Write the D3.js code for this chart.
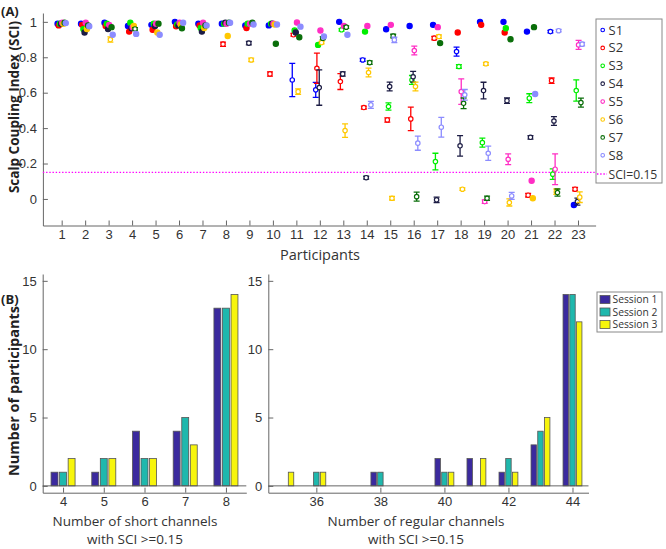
<!DOCTYPE html>
<html>
<head>
<meta charset="utf-8">
<script src="https://cdn.jsdelivr.net/npm/d3@7"></script>
<style>
  body { margin: 0; background: #fff; }
  svg { font-family: "Open Sans", sans-serif; }
  .axis path, .axis line { stroke: #666; }
  .axis text { fill: #333; font-size: 13px; }
</style>
</head>
<body>
<div id="chart"></div>
<script>
// Panel A: SCI per participant, one series per short channel (mean and error)
const participants = [1, 2, 3, 4, 5, 6, 7, 8, 9, 10, 11, 12, 13, 14, 15, 16, 17, 18, 19, 20, 21, 22, 23];

const s1 = [0.99, 0.99, 0.995, 0.977, 0.983, 1.0, 0.99, 0.99, 0.98, 0.98, 0.672, 0.616, 1.0, 0.785, 0.958, 0.977, 0.983, 0.832, 1.0, 1.0, 0.945, 0.945, -0.034];
const s1Err = [0, 0, 0, 0, 0, 0, 0, 0, 0, 0, 0.094, 0.042, 0, 0.008, 0, 0, 0, 0.025, 0, 0, 0, 0.007, 0];
const s2 = [0.98, 0.983, 0.977, 0.945, 0.955, 0.975, 0.98, 0.874, 0.965, 0.706, 0.927, 0.738, 0.663, 0.516, 0.446, 0.452, 0.908, 0.94, 0.983, 0.94, 0.021, 0.668, 0.055];
const s2Err = [0, 0, 0, 0, 0, 0, 0, 0.012, 0, 0.012, 0.008, 0.085, 0.045, 0.008, 0.012, 0.066, 0.01, 0, 0, 0, 0.01, 0.015, 0.01];
const s3 = [0.99, 0.959, 0.99, 0.995, 0.99, 0.985, 0.965, 0.99, 0.99, 0.99, 0.951, 0.87, 0.955, 0.945, 0.522, 0.672, 0.211, 0.748, 0.318, 0.964, 0.569, 0.14, 0.612];
const s3Err = [0, 0, 0, 0, 0, 0, 0, 0, 0, 0, 0, 0, 0.007, 0, 0.02, 0.025, 0.047, 0.01, 0.025, 0, 0.025, 0.03, 0.06];
const s4 = [0.99, 0.94, 0.96, 0.964, 0.977, 0.98, 0.945, 0.995, 0.88, 0.99, 0.94, 0.629, 0.706, 0.12, 0.635, 0.69, -0.005, 0.3, 0.612, 0.555, 0.348, 0.44, -0.015];
const s4Err = [0, 0, 0, 0, 0, 0, 0, 0, 0.01, 0, 0, 0.1, 0.012, 0.008, 0.025, 0.03, 0.015, 0.058, 0.047, 0.015, 0.01, 0.025, 0.02];
const s5 = [0.995, 0.995, 0.983, 0.97, 0.99, 0.995, 0.995, 0.99, 0.99, 0.99, 0.996, 0.951, 0.977, 0.977, 0.983, 0.838, 0.97, 0.606, -0.015, 0.224, 0.103, 0.168, 0.87];
const s5Err = [0, 0, 0, 0, 0, 0, 0, 0, 0, 0, 0, 0, 0, 0, 0, 0.025, 0, 0.072, 0.01, 0.03, 0, 0.087, 0.025];
const s6 = [0.99, 0.96, 0.9, 0.977, 0.94, 0.985, 0.965, 0.92, 0.785, 0.985, 0.606, 0.883, 0.386, 0.714, 0.004, 0.635, 0.917, 0.055, 0.763, -0.02, 0.004, 0.041, 0.01];
const s6Err = [0, 0, 0.015, 0, 0, 0, 0, 0, 0.01, 0, 0.015, 0.007, 0.038, 0.025, 0.01, 0.025, 0.01, 0.007, 0.008, 0.02, 0, 0.015, 0.03];
const s7 = [0.995, 0.98, 0.97, 0.96, 0.99, 0.964, 0.98, 0.995, 0.995, 0.876, 0.913, 0.908, 0.97, 0.77, 0.92, 0.013, 0.88, 0.54, 0.004, 0.902, 0.97, 0.036, 0.544];
const s7Err = [0, 0, 0, 0.007, 0, 0, 0, 0, 0, 0, 0, 0.008, 0.007, 0.01, 0.01, 0.025, 0, 0.03, 0.012, 0, 0, 0.02, 0.025];
const s8 = [0.993, 0.975, 0.927, 0.932, 0.927, 0.995, 0.98, 0.995, 0.985, 0.985, 0.973, 0.917, 0.927, 0.531, 0.898, 0.315, 0.405, 0.588, 0.258, 0.017, 0.593, 0.95, 0.874];
const s8Err = [0, 0, 0, 0, 0, 0, 0, 0, 0, 0, 0, 0, 0, 0.02, 0.015, 0.04, 0.056, 0.03, 0.04, 0.02, 0, 0.007, 0.01];

const channelNames = ['S1', 'S2', 'S3', 'S4', 'S5', 'S6', 'S7', 'S8'];
const sciThreshold = 0.15;
const sciTicks = [0, 0.2, 0.4, 0.6, 0.8, 1];

// Panel B: number of participants per count of good channels, 3 sessions
const shortCounts = [4, 5, 6, 7, 8];
const shortSession1 = [1, 1, 4, 4, 13];
const shortSession2 = [1, 2, 2, 5, 13];
const shortSession3 = [2, 2, 2, 3, 14];

const regularCounts = [35, 36, 37, 38, 39, 40, 41, 42, 43, 44];
const regularSession1 = [0, 0, 0, 1, 0, 2, 2, 1, 3, 14];
const regularSession2 = [0, 1, 0, 1, 0, 1, 0, 2, 4, 14];
const regularSession3 = [1, 1, 0, 0, 0, 1, 2, 1, 5, 12];

const sessionNames = ['Session 1', 'Session 2', 'Session 3'];
const countTicks = [0, 5, 10, 15];

const channelColors = ['#0000ff', '#ff0000', '#00ee00', '#1c1c44', '#ff2ec4', '#ffc800', '#0a6e0a', '#8c8cff'];
const sessionColors = ['#3b2a9e', '#1fb8ad', '#f7f50c'];

const width = 666;
const height = 549;

const svg = d3.select('#chart')
    .append('svg')
    .attr('width', width)
    .attr('height', height);

// ---------- Panel A ----------
const channels = [
    { name: channelNames[0], mean: s1, err: s1Err },
    { name: channelNames[1], mean: s2, err: s2Err },
    { name: channelNames[2], mean: s3, err: s3Err },
    { name: channelNames[3], mean: s4, err: s4Err },
    { name: channelNames[4], mean: s5, err: s5Err },
    { name: channelNames[5], mean: s6, err: s6Err },
    { name: channelNames[6], mean: s7, err: s7Err },
    { name: channelNames[7], mean: s8, err: s8Err }
];

const xA = d3.scaleLinear().domain([0.2, 23.75]).range([42.9, 595.6]);
const yA = d3.scaleLinear().domain([-0.15, 1.05]).range([225.5, 13]);

svg.append('g')
    .attr('class', 'axis')
    .attr('transform', 'translate(0,225.5)')
    .call(d3.axisBottom(xA).tickValues(participants).tickFormat(d3.format('d'))
        .tickSizeInner(-5).tickSizeOuter(0).tickPadding(4));

svg.append('g')
    .attr('class', 'axis')
    .attr('transform', 'translate(42.9,0)')
    .call(d3.axisLeft(yA).tickValues(sciTicks).tickFormat(d => d === 0 || d === 1 ? d : d.toFixed(1))
        .tickSizeInner(-5).tickSizeOuter(0).tickPadding(6));

// threshold line
svg.append('line')
    .attr('x1', xA.range()[0]).attr('x2', xA.range()[1])
    .attr('y1', yA(sciThreshold)).attr('y2', yA(sciThreshold))
    .attr('stroke', '#ff00ff')
    .attr('stroke-width', 1.3)
    .attr('stroke-dasharray', '1.4,1.8');

channels.forEach((ch, i) => {
    const offset = (i - 3.5) * 0.05;
    const color = channelColors[i];
    const g = svg.append('g');
    const pts = participants.map((p, j) => ({ p: p, m: ch.mean[j], e: ch.err[j] }));

    const bars = pts.filter(d => d.e > 0);
    g.selectAll('.eb').data(bars).enter().append('path')
        .attr('d', d => {
            const cx = xA(d.p + offset);
            const y1 = yA(d.m + d.e), y2 = yA(d.m - d.e);
            return `M${cx},${y1}V${y2}M${cx - 3},${y1}H${cx + 3}M${cx - 3},${y2}H${cx + 3}`;
        })
        .attr('stroke', color)
        .attr('stroke-width', 1.3)
        .attr('fill', 'none');

    g.selectAll('circle').data(pts).enter().append('circle')
        .attr('cx', d => xA(d.p + offset))
        .attr('cy', d => yA(d.m))
        .attr('r', d => d.e > 0 ? 2.2 : 2.6)
        .attr('fill', d => d.e > 0 ? '#fff' : color)
        .attr('stroke', color)
        .attr('stroke-width', 1.2);
});

svg.append('text')
    .attr('transform', 'translate(19,107) rotate(-90)')
    .attr('text-anchor', 'middle')
    .style('font-size', '13.5px')
    .style('font-weight', 'bold')
    .attr('fill', '#222')
    .text('Scalp Coupling Index (SCI)');

svg.append('text')
    .attr('x', 320).attr('y', 260)
    .attr('text-anchor', 'middle')
    .style('font-size', '14.5px')
    .attr('fill', '#333')
    .text('Participants');

svg.append('text')
    .attr('x', 1).attr('y', 16)
    .style('font-size', '13px')
    .style('font-weight', 'bold')
    .attr('fill', '#222')
    .text('(A)');

// legend A
const legA = svg.append('g');
legA.append('rect')
    .attr('x', 596).attr('y', 19).attr('width', 66).attr('height', 164)
    .attr('fill', '#fff').attr('stroke', '#888').attr('stroke-width', 1);
channelNames.forEach((name, i) => {
    const yy = 30 + i * 17.9;
    legA.append('circle')
        .attr('cx', 602.7).attr('cy', yy).attr('r', 1.8)
        .attr('fill', 'none').attr('stroke', channelColors[i]).attr('stroke-width', 1.1);
    legA.append('text')
        .attr('x', 608.5).attr('y', yy + 4.5)
        .style('font-size', '13px').attr('fill', '#333')
        .text(name);
});
legA.append('line')
    .attr('x1', 597).attr('x2', 607).attr('y1', 174).attr('y2', 174)
    .attr('stroke', '#ff00ff').attr('stroke-width', 1.3).attr('stroke-dasharray', '1.4,1.8');
legA.append('text')
    .attr('x', 608.5).attr('y', 178.5)
    .style('font-size', '12.2px').attr('fill', '#333')
    .text('SCI=' + sciThreshold);

// ---------- Panel B ----------
const yB = d3.scaleLinear().domain([-0.5, 15.5]).range([492.7, 274]);

function drawBars(cats, series, xScale, yAxisX, xLabelX, label1, label2) {
    svg.append('g')
        .attr('class', 'axis')
        .attr('transform', 'translate(0,492.7)')
        .call(d3.axisBottom(xScale).tickValues(cats.filter(c => xScale.ticksShown(c))).tickFormat(d3.format('d'))
            .tickSizeInner(-5).tickSizeOuter(0).tickPadding(4));

    svg.append('g')
        .attr('class', 'axis')
        .attr('transform', `translate(${yAxisX},0)`)
        .call(d3.axisLeft(yB).tickValues(countTicks)
            .tickSizeInner(-5).tickSizeOuter(0).tickPadding(6));

    const offsets = [-0.21, 0, 0.21];
    const bw = xScale(cats[0] + 0.085) - xScale(cats[0] - 0.085);
    series.forEach((vals, s) => {
        svg.append('g').selectAll('rect')
            .data(cats.map((c, i) => ({ c: c, v: vals[i] })).filter(d => d.v > 0))
            .enter().append('rect')
            .attr('x', d => xScale(d.c + offsets[s]) - bw / 2)
            .attr('width', bw)
            .attr('y', d => yB(d.v))
            .attr('height', d => yB(0) - yB(d.v))
            .attr('fill', sessionColors[s])
            .attr('stroke', '#555')
            .attr('stroke-width', 0.8);
    });

    // baseline at zero
    svg.append('line')
        .attr('x1', xScale.range()[0]).attr('x2', xScale.range()[1])
        .attr('y1', yB(0)).attr('y2', yB(0))
        .attr('stroke', '#555').attr('stroke-width', 0.9);

    svg.append('text')
        .attr('x', xLabelX).attr('y', 525.5)
        .attr('text-anchor', 'middle')
        .style('font-size', '13.5px').attr('fill', '#333')
        .text(label1);
    svg.append('text')
        .attr('x', xLabelX).attr('y', 543.5)
        .attr('text-anchor', 'middle')
        .style('font-size', '13.5px').attr('fill', '#333')
        .text(label2);
}

const xShort = d3.scaleLinear().domain([3.5, 8.5]).range([42.7, 246.3]);
xShort.ticksShown = c => true;
drawBars(shortCounts, [shortSession1, shortSession2, shortSession3], xShort, 42.7, 135,
    'Number of short channels', 'with SCI >=0.15');

const xRegular = d3.scaleLinear().domain([34.5, 44.5]).range([268.3, 588.5]);
xRegular.ticksShown = c => c % 2 === 0;
drawBars(regularCounts, [regularSession1, regularSession2, regularSession3], xRegular, 268.3, 416,
    'Number of regular channels', 'with SCI >=0.15');

svg.append('text')
    .attr('transform', 'translate(19,391) rotate(-90)')
    .attr('text-anchor', 'middle')
    .style('font-size', '14.5px')
    .style('font-weight', 'bold')
    .attr('fill', '#222')
    .text('Number of participants');

svg.append('text')
    .attr('x', 1).attr('y', 304)
    .style('font-size', '13px')
    .style('font-weight', 'bold')
    .attr('fill', '#222')
    .text('(B)');

// legend B
const legB = svg.append('g');
legB.append('rect')
    .attr('x', 597).attr('y', 292).attr('width', 65).attr('height', 40)
    .attr('fill', '#fff').attr('stroke', '#888').attr('stroke-width', 1);
sessionNames.forEach((name, i) => {
    const yy = 299.5 + i * 12.5;
    legB.append('rect')
        .attr('x', 600).attr('y', yy - 4).attr('width', 10).attr('height', 8)
        .attr('fill', sessionColors[i]).attr('stroke', '#555').attr('stroke-width', 0.8);
    legB.append('text')
        .attr('x', 612.5).attr('y', yy + 3.5)
        .style('font-size', '10.3px').attr('fill', '#333')
        .text(name);
});
</script>
</body>
</html>
